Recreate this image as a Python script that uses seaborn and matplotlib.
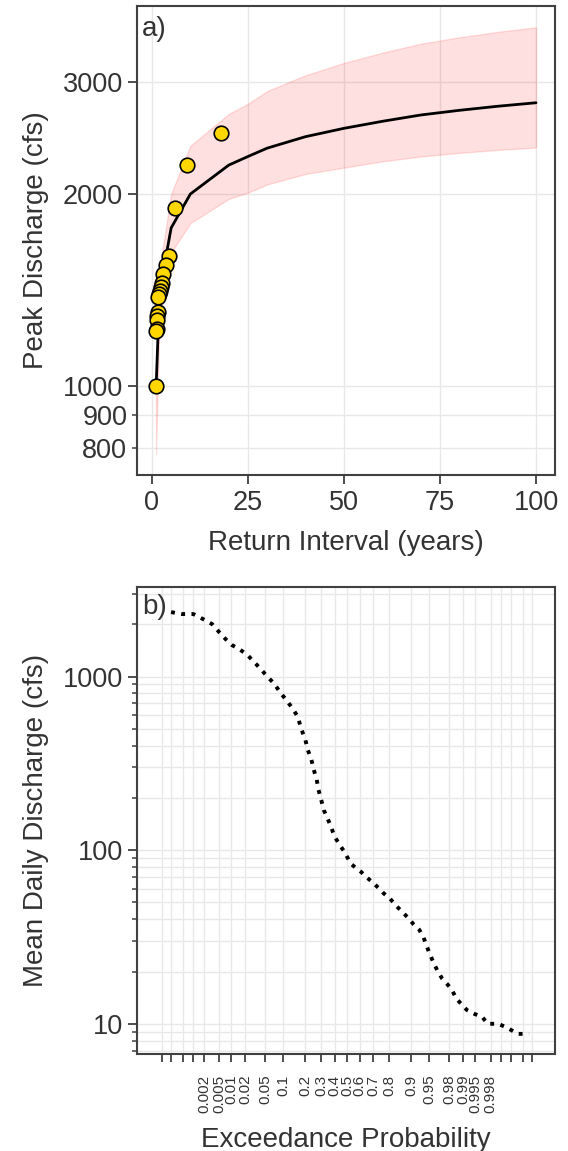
import numpy as np
import matplotlib
matplotlib.use("Agg")
import matplotlib.pyplot as plt
import seaborn as sns
from statistics import NormalDist
from matplotlib.ticker import FixedLocator, FixedFormatter, NullFormatter, NullLocator, LogLocator

# ---------------- data ----------------
# annual peaks: return interval (years) and peak discharge (cfs)
obs_return_interval = [18.0, 9.0, 6.0, 4.5, 3.6, 3.0, 2.571, 2.25, 2.0, 1.8,
                       1.636, 1.5, 1.385, 1.286, 1.2, 1.125, 1.059]
obs_peak_q = [2494, 2224, 1905, 1600, 1548, 1497, 1450, 1428, 1412, 1395,
              1381, 1305, 1286, 1269, 1229, 1222, 1000]

# fitted frequency curve with confidence band
fit_return_interval = [1.05, 2, 5, 10, 20, 25, 30, 40, 50, 60, 70, 80, 90, 100]
fit_peak_q = [985, 1410, 1770, 2000, 2220, 2290, 2360, 2460, 2535, 2600, 2660, 2705, 2745, 2780]
fit_lower = [785, 1300, 1620, 1800, 1965, 2010, 2070, 2150, 2200, 2250, 2290, 2320, 2345, 2365]
fit_upper = [1060, 1530, 2000, 2380, 2670, 2770, 2900, 3070, 3210, 3330, 3440, 3520, 3590, 3650]

# flow duration curve: exceedance probability and mean daily discharge (cfs)
exceed_prob = [0.0002, 0.00045, 0.001, 0.0019, 0.0033, 0.0049, 0.0073, 0.0102, 0.0158, 0.0222,
               0.030, 0.040, 0.054, 0.071, 0.089, 0.111, 0.134, 0.161, 0.176, 0.200,
               0.214, 0.236, 0.251, 0.270, 0.282, 0.301, 0.319, 0.345, 0.371, 0.399,
               0.440, 0.477, 0.497, 0.526, 0.568, 0.609, 0.650, 0.701, 0.744, 0.767,
               0.806, 0.838, 0.864, 0.887, 0.908, 0.926, 0.937, 0.945, 0.952, 0.9585,
               0.965, 0.9714, 0.9774, 0.9822, 0.9857, 0.989, 0.9919, 0.9947, 0.9966, 0.9976,
               0.9988, 0.99937, 0.99969, 0.99987]
daily_q = [2350, 2290, 2290, 2140, 2005, 1815, 1640, 1520, 1425, 1335,
           1220, 1115, 1000, 910, 810, 730, 660, 585, 505, 432,
           378, 331, 290, 254, 222, 194, 170, 153, 137, 120,
           107, 98, 92, 84, 79, 75, 70, 64.5, 59.6, 56.5,
           52.4, 47.7, 44.3, 41.1, 37.5, 34.8, 31.6, 27.9, 25.0, 22.5,
           20.2, 18.3, 17.0, 15.7, 14.0, 13.0, 12.0, 11.4, 11.0, 10.0,
           10.0, 9.45, 8.75, 8.75]

prob_ticks = [0.0001, 0.0002, 0.0005, 0.001, 0.002, 0.005, 0.01, 0.02, 0.05, 0.1,
              0.2, 0.3, 0.4, 0.5, 0.6, 0.7, 0.8, 0.9, 0.95, 0.98,
              0.99, 0.995, 0.998, 0.999, 0.9995, 0.9998, 0.9999]
prob_labels = ["", "", "", "", "0.002", "0.005", "0.01", "0.02", "0.05", "0.1",
               "0.2", "0.3", "0.4", "0.5", "0.6", "0.7", "0.8", "0.9", "0.95", "0.98",
               "0.99", "0.995", "0.998", "", "", "", ""]

# ---------------- normal probability scale ----------------
_nd = NormalDist()
_ppf_v = np.vectorize(_nd.inv_cdf, otypes=[float])
_cdf_v = np.vectorize(_nd.cdf, otypes=[float])


def prob_forward(p):
    p = np.clip(np.asarray(p, dtype=float), 1e-12, 1 - 1e-12)
    return _ppf_v(p)


def prob_inverse(z):
    return _cdf_v(np.asarray(z, dtype=float))


# ---------------- style ----------------
sns.set_theme(style="ticks")
plt.rcParams["font.family"] = ["Liberation Sans", "DejaVu Sans"]
plt.rcParams["axes.edgecolor"] = ".25"
plt.rcParams["axes.linewidth"] = 1.5

grid_kw = dict(color=".91", linewidth=1.0)
text_color = ".2"

fig = plt.figure(figsize=(5.68, 11.51), dpi=100)
W, H = 568, 1151
ax1 = fig.add_axes([137 / W, 1 - 474.5 / H, 418 / W, 468.5 / H])
ax2 = fig.add_axes([137 / W, 1 - 1054 / H, 418 / W, 467.5 / H])

# ---------------- panel a: peak flow frequency ----------------
ax1.fill_between(fit_return_interval, fit_lower, fit_upper, color="red",
                 alpha=0.12, linewidth=1.0, zorder=1)
sns.lineplot(x=fit_return_interval, y=fit_peak_q, color="black", linewidth=2.0,
             ax=ax1, zorder=3)
sns.scatterplot(x=obs_return_interval, y=obs_peak_q, color="gold", edgecolor="black",
                s=110, linewidth=1.2, zorder=4, ax=ax1)
ax1.set_yscale("log")
ax1.yaxis.set_major_locator(FixedLocator([1000, 2000, 3000]))
ax1.yaxis.set_major_formatter(FixedFormatter(["1000", "2000", "3000"]))
ax1.yaxis.set_minor_locator(FixedLocator([800, 900]))
ax1.yaxis.set_minor_formatter(FixedFormatter(["800", "900"]))
ax1.set_xticks([0, 25, 50, 75, 100])
ax1.grid(True, which="both", **grid_kw)
ax1.set_axisbelow(True)
ax1.tick_params(which="major", length=6.5, width=1.3, labelsize=19.5,
                colors=".25", labelcolor=text_color)
ax1.tick_params(which="minor", length=3.6, width=1.1, labelsize=19.5,
                colors=".25", labelcolor=text_color)
ax1.tick_params(axis="x", pad=5)
ax1.set_xlabel("Return Interval (years)", fontsize=20, color=text_color, labelpad=10)
ax1.set_ylabel("Peak Discharge (cfs)", fontsize=20, color=text_color, labelpad=10)
ax1.text(0.012, 0.978, "a)", transform=ax1.transAxes, ha="left", va="top",
         fontsize=20, color=text_color)

# ---------------- panel b: flow duration curve ----------------
sns.lineplot(x=exceed_prob, y=daily_q, color="black", linewidth=2.8,
             linestyle=":", ax=ax2)
ax2.set_yscale("log")
ax2.set_xscale("function", functions=(prob_forward, prob_inverse))
ax2.set_xlim(1.2e-5, 0.999985)
ax2.set_ylim(6.7, 3300)
ax2.xaxis.set_major_locator(FixedLocator(prob_ticks))
ax2.xaxis.set_major_formatter(FixedFormatter(prob_labels))
ax2.xaxis.set_minor_locator(NullLocator())
ax2.yaxis.set_major_locator(FixedLocator([10, 100, 1000]))
ax2.yaxis.set_major_formatter(FixedFormatter(["10", "100", "1000"]))
ax2.yaxis.set_minor_locator(LogLocator(base=10, subs=np.arange(2, 10)))
ax2.yaxis.set_minor_formatter(NullFormatter())
ax2.grid(True, which="both", **grid_kw)
ax2.set_axisbelow(True)
ax2.tick_params(axis="y", which="major", length=6.5, width=1.3, labelsize=19.5,
                colors=".25", labelcolor=text_color)
ax2.tick_params(axis="y", which="minor", length=3.6, width=1.1, colors=".25")
ax2.tick_params(axis="x", which="major", length=6.0, width=1.3, labelsize=11,
                labelrotation=90, pad=9, colors=".25", labelcolor=text_color)
ax2.set_xlabel("Exceedance Probability", fontsize=20, color=text_color, labelpad=10)
ax2.set_ylabel("Mean Daily Discharge (cfs)", fontsize=20, color=text_color, labelpad=10)
ax2.text(0.012, 0.985, "b)", transform=ax2.transAxes, ha="left", va="top",
         fontsize=20, color=text_color)

fig.savefig("out.png", dpi=100)
